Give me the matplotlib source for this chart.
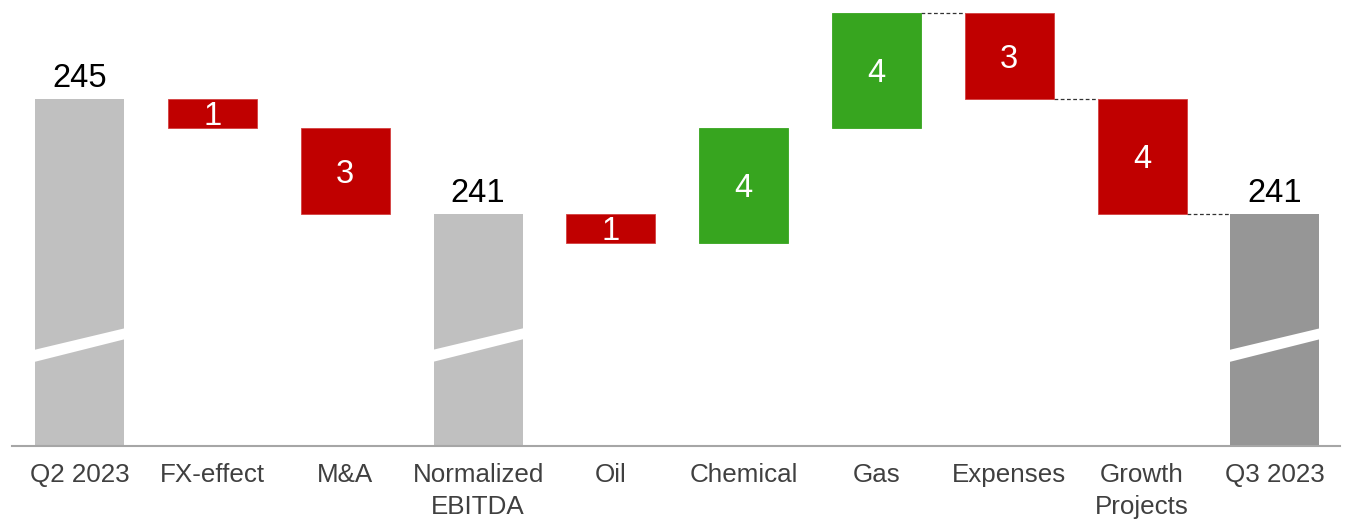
import matplotlib.pyplot as plt
from matplotlib.patches import Polygon

plt.rcParams['font.family'] = ['Liberation Sans', 'DejaVu Sans']

categories = ["Q2 2023", "FX-effect", "M&A", "Normalized\nEBITDA", "Oil",
              "Chemical", "Gas", "Expenses", "Growth\nProjects", "Q3 2023"]
changes = [245, -1, -3, 241, -1, 4, 4, -3, -4, 241]
kinds = ["total", "delta", "delta", "total", "delta",
         "delta", "delta", "delta", "delta", "total_end"]
labels = ["245", "1", "3", "241", "1", "4", "4", "3", "4", "241"]
connectors = [6, 7, 8]  # dashed line from bar i to bar i+1

GRAY = "#C0C0C0"
GRAY_END = "#969696"
RED = "#C00000"
GREEN = "#37A51F"

y_min, y_max = 232.93, 248.44
width = 0.67

fig = plt.figure(figsize=(13.46, 5.27), dpi=100)
ax = fig.add_axes([12 / 1346, 81 / 527, 1328 / 1346, 446 / 527])

running = 0
tops = []
for i, (val, kind) in enumerate(zip(changes, kinds)):
    if kind.startswith("total"):
        running = val
        color = GRAY if kind == "total" else GRAY_END
        ax.bar(i, val - y_min, bottom=y_min, width=width, color=color, zorder=2)
        ax.text(i, val + 0.4, labels[i], ha="center", va="baseline",
                fontsize=23.5, color="black")
        # axis break band
        x0, x1 = i - width / 2 - 0.01, i + width / 2 + 0.01
        band = Polygon([(x0, 236.27), (x1, 237.03), (x1, 236.65), (x0, 235.85)],
                       closed=True, facecolor="white", edgecolor="none", zorder=3)
        ax.add_patch(band)
        tops.append((val, val))
    else:
        start = running
        running = start + val
        lo, hi = min(start, running), max(start, running)
        color = GREEN if val > 0 else RED
        ax.bar(i, hi - lo, bottom=lo, width=width, color=color,
               edgecolor="#D44040" if val < 0 else color, linewidth=0.6, zorder=2)
        ax.text(i, (lo + hi) / 2, labels[i], ha="center", va="center_baseline",
                fontsize=23.5, color="white", zorder=4)
        tops.append((start, running))

for i in connectors:
    level = tops[i][1]
    ax.plot([i + width / 2, i + 1 - width / 2], [level, level],
            color="#333333", linestyle=(0, (3, 2)), linewidth=0.9, zorder=1)

ax.set_xlim(-0.51, 9.49)
ax.set_ylim(y_min, y_max)
ax.set_xticks(range(len(categories)))
ax.set_xticklabels(categories, fontsize=18.7, color="#404040", linespacing=1.45)
ax.tick_params(axis="x", length=0, pad=12)
ax.set_yticks([])
for side in ["top", "right", "left"]:
    ax.spines[side].set_visible(False)
ax.spines["bottom"].set_color("#A6A6A6")
ax.spines["bottom"].set_linewidth(1.5)

fig.savefig("out.png", dpi=100)
